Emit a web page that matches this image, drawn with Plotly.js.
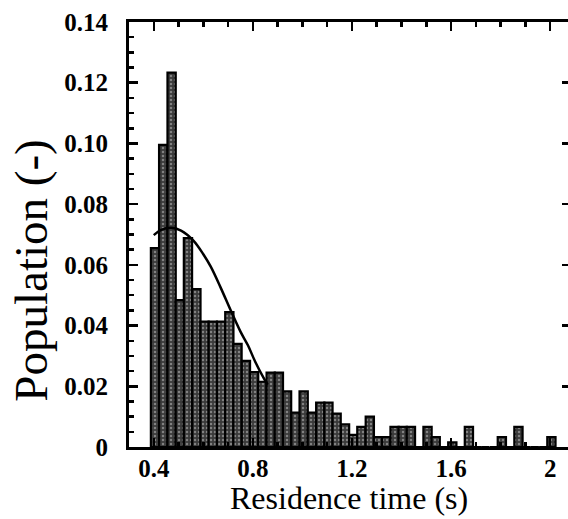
<!DOCTYPE html>
<html>
<head>
<meta charset="utf-8">
<script src="https://cdn.plot.ly/plotly-3.0.1.min.js"></script>
<style>
html, body { margin: 0; padding: 0; overflow: hidden; background: #fff; }
#chart { width: 568px; height: 519px; }
</style>
</head>
<body>
<div id="chart"></div>
<script>
// Histogram bin centres (s)
const binCentres = [0.405, 0.438, 0.472, 0.505, 0.538, 0.572, 0.605, 0.638, 0.672, 0.705,
  0.738, 0.772, 0.805, 0.838, 0.872, 0.905, 0.938, 0.972, 1.005, 1.038,
  1.072, 1.105, 1.138, 1.172, 1.205, 1.238, 1.272, 1.305, 1.338, 1.372,
  1.405, 1.438, 1.472, 1.505, 1.538, 1.572, 1.605, 1.638, 1.672, 1.705,
  1.738, 1.772, 1.805, 1.838, 1.872, 1.905, 1.938, 1.972, 2.005];
// Population of each bin (-)
const population = [0.0655, 0.0995, 0.1233, 0.0484, 0.0688, 0.0520, 0.0413, 0.0413, 0.0413, 0.0444,
  0.0340, 0.0284, 0.0247, 0.0215, 0.0245, 0.0245, 0.0183, 0.0113, 0.0183, 0.0113,
  0.0146, 0.0146, 0.0110, 0.0075, 0.0040, 0.0066, 0.0100, 0.0033, 0.0033, 0.0066,
  0.0066, 0.0066, 0, 0.0066, 0.0033, 0, 0.0015, 0, 0.0066, 0,
  0, 0, 0.0033, 0, 0.0066, 0, 0, 0, 0.0033];
// Fitted distribution curve (visible part)
const fitX = [0.40, 0.43, 0.47, 0.51, 0.56, 0.60, 0.63, 0.67, 0.71, 0.75, 0.78, 0.81, 0.845, 0.86];
const fitY = [0.0698, 0.0715, 0.0722, 0.0713, 0.0680, 0.0635, 0.0594, 0.0525, 0.0451, 0.0380, 0.0335, 0.0280, 0.0225, 0.0205];
// Tick labels
const xTickVals = [0.4, 0.8, 1.2, 1.6, 2];
const xTickText = ['0.4', '0.8', '1.2', '1.6', '2'];
const yTickVals = [0, 0.02, 0.04, 0.06, 0.08, 0.10, 0.12, 0.14];
const yTickText = ['0', '0.02', '0.04', '0.06', '0.08', '0.10', '0.12', '0.14'];
const xTitle = 'Residence time (s)';
const yTitle = 'Population (-)';

const serif = 'Liberation Serif, Times New Roman, serif';

const barTrace = {
  type: 'bar',
  x: binCentres,
  y: population,
  width: 1 / 30,
  marker: {
    color: '#3c3c3c',
    line: { color: '#000', width: 2.2 },
    pattern: { shape: '.', fillmode: 'overlay', bgcolor: '#3a3a3a', fgcolor: '#c8c8c8', size: 4, solidity: 0.3 }
  },
  hoverinfo: 'skip'
};
const fitTrace = {
  type: 'scatter',
  mode: 'lines',
  x: fitX,
  y: fitY,
  line: { color: '#000', width: 2.5, shape: 'spline' },
  hoverinfo: 'skip'
};
// Right-hand mirrored ticks
const rightTrace = {
  type: 'scatter', mode: 'lines', x: [], y: [], yaxis: 'y2', hoverinfo: 'skip'
};

const tickFont = { family: serif, size: 25, color: '#000', weight: 'bold' };

const layout = {
  width: 568,
  height: 519,
  margin: { l: 129, r: 0, t: 22, b: 72 },
  paper_bgcolor: '#fff',
  plot_bgcolor: '#fff',
  showlegend: false,
  bargap: 0,
  xaxis: {
    range: [0.3, 2.072],
    tickvals: xTickVals,
    ticktext: xTickText,
    ticks: 'inside',
    ticklen: 9,
    tickwidth: 2.5,
    tickcolor: '#000',
    minor: { dtick: 0.1, tick0: 0.3, ticks: 'inside', ticklen: 5, tickwidth: 2.5, tickcolor: '#000' },
    showline: true,
    linecolor: '#000',
    linewidth: 3,
    mirror: 'ticks',
    showgrid: false,
    zeroline: false,
    tickfont: tickFont,
    ticklabelstandoff: -3
  },
  yaxis: {
    range: [0, 0.14],
    tickvals: yTickVals,
    ticktext: yTickText,
    ticks: 'inside',
    ticklen: 9,
    tickwidth: 2.5,
    tickcolor: '#000',
    minor: { dtick: 0.005, tick0: 0, ticks: 'inside', ticklen: 5, tickwidth: 2.5, tickcolor: '#000' },
    showline: true,
    linecolor: '#000',
    linewidth: 3,
    mirror: false,
    showgrid: false,
    zeroline: false,
    tickfont: tickFont,
    ticklabelstandoff: 13
  },
  yaxis2: {
    overlaying: 'y',
    side: 'right',
    range: [0, 0.14],
    tickvals: yTickVals,
    ticks: 'inside',
    ticklen: 6,
    tickwidth: 2.5,
    tickcolor: '#000',
    showticklabels: false,
    showline: false,
    showgrid: false,
    zeroline: false
  },
  annotations: [
    { text: xTitle, xref: 'paper', yref: 'paper', x: 0.5, y: -0.1200, xanchor: 'center', yanchor: 'middle',
      showarrow: false, font: { family: serif, size: 32, color: '#000' } },
    { text: yTitle, xref: 'paper', yref: 'paper', x: -0.2232, y: 0.415, xanchor: 'center', yanchor: 'middle',
      textangle: -90, showarrow: false, font: { family: serif, size: 47, color: '#000' } }
  ]
};

Plotly.newPlot('chart', [barTrace, fitTrace, rightTrace], layout, { displayModeBar: false, staticPlot: true });
</script>
</body>
</html>
